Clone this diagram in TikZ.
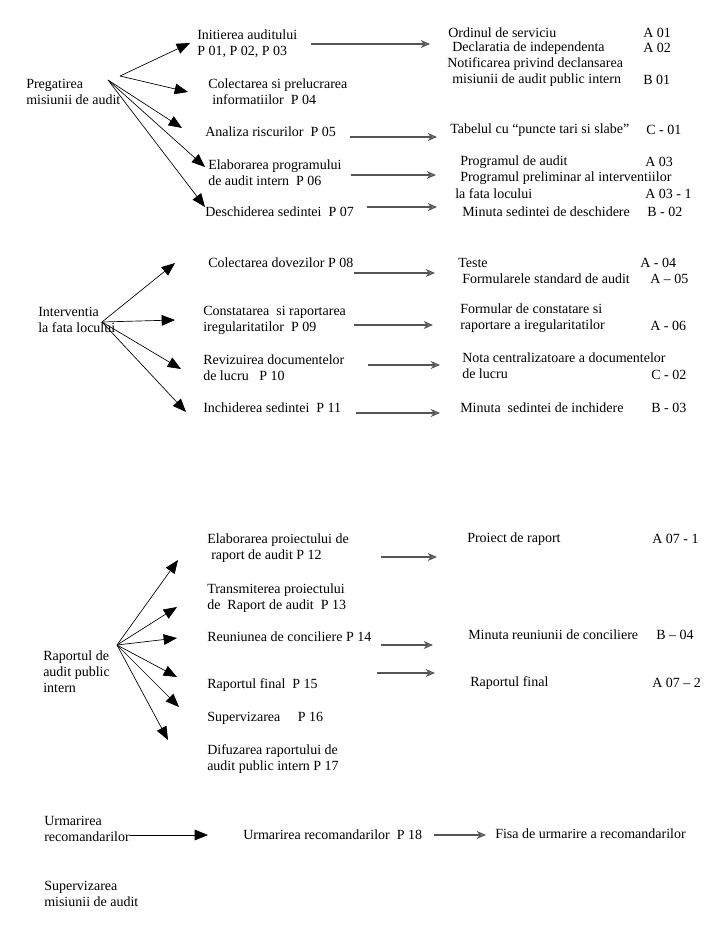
\documentclass[tikz,border=0pt]{standalone}
\usepackage{fontspec}
\setmainfont{Liberation Serif}
\definecolor{linegray}{RGB}{85, 85, 85}
\definecolor{headgray}{RGB}{135, 135, 135}
\usetikzlibrary{arrows.meta}
\tikzset{
  lbl/.style={font=\fontsize{10.5}{12}\selectfont, anchor=west, align=left, inner sep=0pt},
  blk/.style={-{Triangle[length=10pt, width=8pt]}, line width=0.5pt},
  gry/.style={-{Stealth[length=7pt, width=6pt, fill=headgray]}, draw=linegray, line width=0.8pt},
}

\begin{document}
\begin{tikzpicture}[x=0.75pt, y=-0.75pt]
  \useasboundingbox (0,0) rectangle (728,925);

  % Pregatirea misiunii de audit
  \node[lbl] (preg) at (26,92) {Pregatirea\\misiunii de audit};
  \coordinate (pa) at (120,76);
  \coordinate (pb) at (108,80);
  \node[lbl] (ini) at (197,44) {Initierea auditului\\P 01, P 02, P 03};
  \node[lbl] (col) at (208,92) {Colectarea si prelucrarea\\\hspace{3pt}informatiilor~ P 04};
  \node[lbl] (ana) at (205,132) {Analiza riscurilor~ P 05};
  \node[lbl] (ela) at (208,173) {Elaborarea programului\\de audit intern~ P 06};
  \node[lbl] (des) at (205,212) {Deschiderea sedintei~ P 07};

  \node[lbl] (ord) at (448,33) {Ordinul de serviciu};
  \node[lbl] (dcl) at (452,48) {Declaratia de independenta};
  \node[lbl] (ntf) at (447,64) {Notificarea privind declansarea};
  \node[lbl] (msn) at (452,80) {misiunii de audit public intern};
  \node[lbl] (tbl) at (450,130) {Tabelul cu “puncte tari si slabe”};
  \node[lbl] (pga) at (460,162) {Programul de audit};
  \node[lbl] (ppi) at (460,178) {Programul preliminar al interventiilor};
  \node[lbl] (lfl) at (455,194) {la fata locului};
  \node[lbl] (msd) at (462,212) {Minuta sedintei de deschidere};

  \foreach \t/\dx/\dy in {ini/-7/-1, col/-20/0} {
    \draw[blk] (pa) -- ([shift={(\dx,\dy)}]\t.west);
  }
  \foreach \t/\dx/\dy in {ana/-23/-4, ela/-3/-6, des/0/-5} {
    \draw[blk] (pb) -- ([shift={(\dx,\dy)}]\t.west);
  }

  % Interventia la fata locului
  \node[lbl] (intv) at (38,320) {Interventia\\la fata locului};
  \coordinate (ia) at (102,322);
  \node[lbl] (cdov) at (208,263) {Colectarea dovezilor P 08};
  \node[lbl] (cons) at (203,320) {Constatarea~ si raportarea\\iregularitatilor~ P 09};
  \node[lbl] (rev) at (203,368) {Revizuirea documentelor\\de lucru~~ P 10};
  \node[lbl] (inch) at (203,408) {Inchiderea sedintei~ P 11};

  \node[lbl] (tst) at (458,263) {Teste};
  \node[lbl] (fsa) at (462,279) {Formularele standard de audit};
  \node[lbl] (fct) at (460,318) {Formular de constatare si\\raportare a iregularitatilor};
  \node[lbl] (nota) at (462,366) {Nota centralizatoare a documentelor\\de lucru};
  \node[lbl] (mic) at (460,408) {Minuta~ sedintei de inchidere};

  \foreach \t/\dx/\dy in {cdov/-33/0, cons/-28/0, rev/-22/1, inch/-17/4} {
    \draw[blk] (ia) -- ([shift={(\dx,\dy)}]\t.west);
  }

  % Raportul de audit public intern
  \node[lbl] (rap) at (43,672) {Raportul de\\audit public\\intern};
  \coordinate (ra) at (117,645);
  \node[lbl] (epr) at (207,548) {Elaborarea proiectului de\\\hspace{3pt}raport de audit P 12};
  \node[lbl] (tpr) at (207,598) {Transmiterea proiectului\\de~ Raport de audit~ P 13};
  \node[lbl] (reu) at (207,637) {Reuniunea de conciliere P 14};
  \node[lbl] (rfin) at (207,685) {Raportul final~ P 15};
  \node[lbl] (sup) at (207,718) {Supervizarea~~~~ P 16};
  \node[lbl] (dif) at (207,759) {Difuzarea raportului de\\audit public intern P 17};

  \node[lbl] (pdr) at (467,539) {Proiect de raport};
  \node[lbl] (mrc) at (468,635) {Minuta reuniunii de conciliere};
  \node[lbl] (rfn) at (470,683) {Raportul final};

  \foreach \t/\dx/\dy in {epr/-29/12, tpr/-30/9, reu/-30/1, rfin/-30/-8, sup/-28/-11, dif/-39/-19} {
    \draw[blk] (ra) -- ([shift={(\dx,\dy)}]\t.west);
  }

  % Urmarirea recomandarilor
  \node[lbl] (urm) at (44,829) {Urmarirea\\recomandarilor};
  \node[lbl] (urmp) at (243,835) {Urmarirea recomandarilor~ P 18};
  \node[lbl] (fisa) at (495,834) {Fisa de urmarire a recomandarilor};
  \node[lbl] (supm) at (44,894) {Supervizarea\\misiunii de audit};
  \draw[blk] ([shift={(0,6)}]urm.east) -- ([shift={(-35,0)}]urmp.west);

  % Codes
  \foreach \nm/\x/\y/\lab in {a01/643/33/A 01, a02/643/48/A 02, b01/643/80/B 01,
      c01/646/130/C - 01, a03/645/162/A 03, a031/645/194/A 03 - 1, b02/647/212/B - 02,
      a04/640/263/A - 04, a05/650/279/A – 05, a06/650/326/A - 06, c02/651/375/C - 02,
      b03/651/408/B - 03, a071/652/539/A 07 - 1, b04/656/635/B – 04, a072/652/683/A 07 – 2} {
    \node[lbl] (\nm) at (\x,\y) {\lab};
  }

  % Documents
  \foreach \s/\e/\sx/\sy/\ex in {ini/ord/14/0/-18, ana/tbl/14/5/-13, ela/pga/9/2/-24,
      des/msd/13/-5/-25, cdov/tst/0/10/-23, cons/fct/8/5/-27, rev/nota/23/-3/-22,
      inch/mic/15/5/-20, epr/pdr/32/9/-30, reu/mrc/9/8/-35, rfin/rfn/59/-12/-35,
      urmp/fisa/12/0/-9} {
    \draw[gry] ([shift={(\sx,\sy)}]\s.east) -- ([shift={(\ex,\sy)}]\s.east -| \e.west);
  }
\end{tikzpicture}
\end{document}
